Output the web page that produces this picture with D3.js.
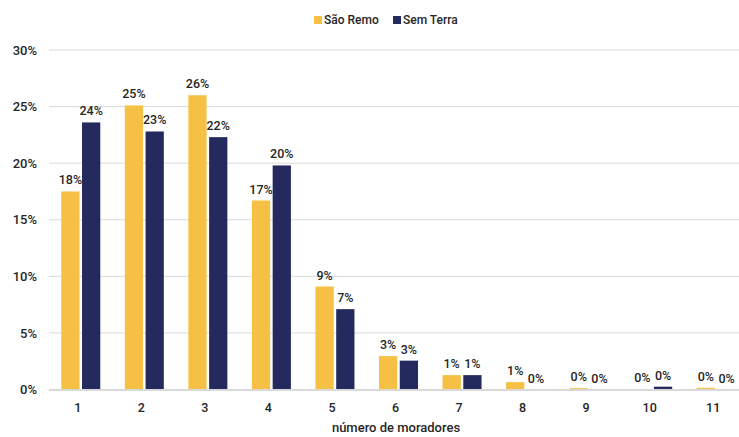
<!DOCTYPE html>
<html>
<head>
<meta charset="utf-8">
<script src="https://cdn.jsdelivr.net/npm/d3@7"></script>
<style>
  body { margin: 0; background: #fff; }
  text { font-family: Roboto, "Noto Sans", sans-serif; fill: #262626; font-weight: 500; }
</style>
</head>
<body>
<div id="chart"></div>
<script>
var categories = ["1", "2", "3", "4", "5", "6", "7", "8", "9", "10", "11"];
var saoRemo = [17.5, 25.1, 26.0, 16.7, 9.1, 2.95, 1.27, 0.65, 0.12, 0.04, 0.15];
var semTerra = [23.6, 22.8, 22.3, 19.8, 7.1, 2.55, 1.27, 0, 0, 0.25, 0];
var yTicks = [0, 5, 10, 15, 20, 25, 30];
var seriesNames = ["São Remo", "Sem Terra"];
var colors = ["#f5c043", "#252a5e"];

var W = 739, H = 437;
var margin = {top: 50, right: 0, bottom: 47.5, left: 49};
var width = 699;
var height = H - margin.top - margin.bottom;

var svg = d3.select("#chart")
  .append("svg")
  .attr("width", W)
  .attr("height", H);

var g = svg.append("g")
  .attr("transform", "translate(" + margin.left + "," + margin.top + ")");

var x = d3.scaleBand()
  .domain(categories)
  .range([0, width]);

var x1 = d3.scaleBand()
  .domain([0, 1])
  .range([x.bandwidth() / 2 - 19.5, x.bandwidth() / 2 + 19.5])
  .paddingInner(0.12);

var y = d3.scaleLinear()
  .domain([0, 30])
  .range([height, 0]);

// gridlines
g.append("g")
  .selectAll("line")
  .data(yTicks.slice(1))
  .enter()
  .append("line")
  .attr("x1", 0)
  .attr("x2", W - margin.left)
  .attr("y1", function(d) { return y(d); })
  .attr("y2", function(d) { return y(d); })
  .attr("stroke", "#d9d9d9")
  .attr("stroke-width", 1);

// y labels
var yAxis = g.append("g")
  .call(d3.axisLeft(y).tickValues(yTicks).tickSize(0).tickPadding(12)
    .tickFormat(function(d) { return d + "%"; }));
yAxis.select(".domain").remove();
yAxis.selectAll("text").style("font-size", "13px").attr("fill", "#262626");

// bars
var data = categories.map(function(c, i) { return {cat: c, vals: [saoRemo[i], semTerra[i]]}; });

var groups = g.selectAll(".grp")
  .data(data)
  .enter()
  .append("g")
  .attr("transform", function(d) { return "translate(" + x(d.cat) + ",0)"; });

groups.selectAll("rect")
  .data(function(d) { return d.vals.map(function(v, j) { return {v: v, j: j}; }); })
  .enter()
  .append("rect")
  .attr("x", function(d) { return x1(d.j); })
  .attr("width", x1.bandwidth())
  .attr("y", function(d) { return y(d.v); })
  .attr("height", function(d) { return height - y(d.v); })
  .attr("fill", function(d) { return colors[d.j]; });

groups.selectAll(".lbl")
  .data(function(d) { return d.vals.map(function(v, j) { return {v: v, j: j}; }); })
  .enter()
  .append("text")
  .attr("x", function(d) { return x1(d.j) + x1.bandwidth() / 2; })
  .attr("y", function(d) { return y(d.v) - 7; })
  .attr("text-anchor", "middle")
  .style("font-size", "12.5px")
  .text(function(d) { return Math.round(d.v) + "%"; });

// baseline
g.append("line")
  .attr("x1", 0)
  .attr("x2", W - margin.left)
  .attr("y1", height + 0.5)
  .attr("y2", height + 0.5)
  .attr("stroke", "#d9d9d9")
  .attr("stroke-width", 2);

// x labels
var xAxis = g.append("g")
  .attr("transform", "translate(-3," + height + ")")
  .call(d3.axisBottom(x).tickSize(0).tickPadding(14));
xAxis.select(".domain").remove();
xAxis.selectAll("text").style("font-size", "12.5px").attr("fill", "#262626");

svg.append("text")
  .attr("x", 396)
  .attr("y", 432)
  .attr("text-anchor", "middle")
  .style("font-size", "13px")
  .text("número de moradores");

// legend
var legendX = [314, 393];
seriesNames.forEach(function(name, i) {
  svg.append("rect")
    .attr("x", legendX[i])
    .attr("y", 16)
    .attr("width", 8)
    .attr("height", 8)
    .attr("fill", colors[i]);
  svg.append("text")
    .attr("x", legendX[i] + 10)
    .attr("y", 20)
    .attr("dy", "0.35em")
    .style("font-size", "12px")
    .text(name);
});
</script>
</body>
</html>
